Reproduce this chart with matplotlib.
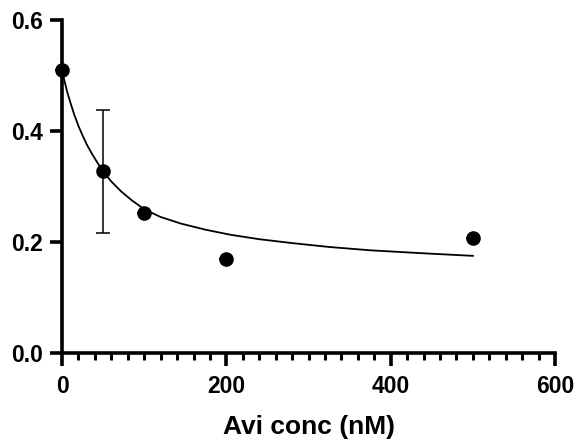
import numpy as np
import matplotlib
matplotlib.use('Agg')
import matplotlib.pyplot as plt
from matplotlib.ticker import MultipleLocator, FormatStrFormatter

# measured points
conc = [0, 50, 100, 200, 500]
signal = [0.51, 0.327, 0.253, 0.169, 0.207]
err = [0.0, 0.111, 0.0, 0.0, 0.0]

# fitted curve
fit_x = [0, 3, 6, 10, 15, 20, 25, 30, 36, 43, 50, 60, 72, 85, 100, 120,
         145, 175, 205, 240, 280, 325, 375, 435, 500]
fit_y = [0.510, 0.490, 0.472, 0.452, 0.429, 0.409, 0.392, 0.376, 0.360,
         0.343, 0.327, 0.309, 0.291, 0.275, 0.259, 0.245, 0.233, 0.222,
         0.213, 0.205, 0.198, 0.191, 0.185, 0.180, 0.175]

plt.rcParams['font.family'] = ['Liberation Sans', 'DejaVu Sans']
plt.rcParams['font.weight'] = 'bold'


def main():
    fig = plt.figure(figsize=(5.77, 4.44), dpi=100)
    ax = fig.add_axes([0.1075, 0.205, 0.8545, 0.75])

    ax.plot(fit_x, fit_y, color='black', lw=1.3, zorder=3, clip_on=False)
    ax.errorbar(conc, signal, yerr=err, fmt='o', color='black', ms=9.5,
                elinewidth=1.1, capsize=4.8, capthick=1.1, zorder=4,
                clip_on=False)

    ax.set_xlim(0, 600)
    ax.set_ylim(0, 0.6)
    ax.xaxis.set_major_locator(MultipleLocator(200))
    ax.xaxis.set_minor_locator(MultipleLocator(20))
    ax.yaxis.set_major_locator(MultipleLocator(0.2))
    ax.yaxis.set_major_formatter(FormatStrFormatter('%.1f'))

    for s in ['top', 'right']:
        ax.spines[s].set_visible(False)
    for s in ['left', 'bottom']:
        ax.spines[s].set_linewidth(2.6)

    ax.tick_params(axis='both', which='major', direction='out', length=9,
                   width=2.6, labelsize=16.5, pad=5)
    ax.tick_params(axis='x', which='minor', direction='out', length=5,
                   width=2.2)
    ax.tick_params(axis='x', which='major', pad=7)

    ax.set_xlabel('Avi conc (nM)', fontsize=19, fontweight='bold',
                  labelpad=12)

    fig.savefig('out.png', dpi=100)


if __name__ == "__main__":
    main()
